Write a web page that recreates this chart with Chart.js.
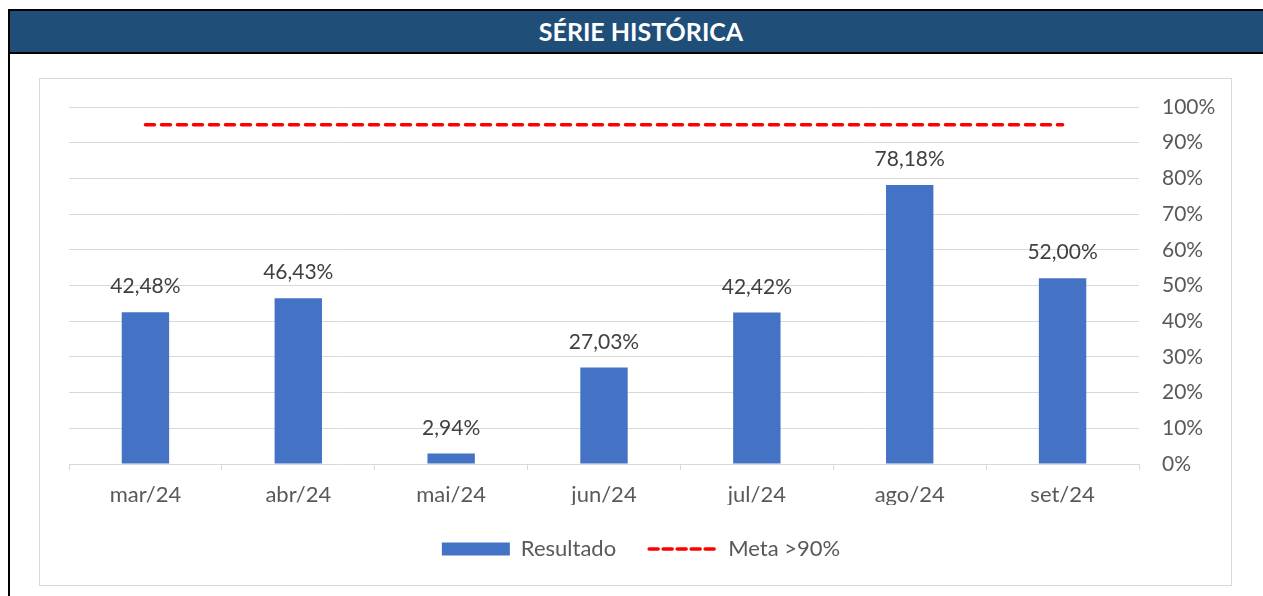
<!DOCTYPE html>
<html><head><meta charset="utf-8">
<script src="https://cdn.jsdelivr.net/npm/chart.js@4.4.1/dist/chart.umd.min.js"></script>
<style>
body{margin:0;background:#fff;width:1263px;height:596px;overflow:hidden;position:relative;font-family:Lato,sans-serif;}
#frame{position:absolute;left:8px;top:9px;width:1270px;height:600px;border-left:2px solid #000;border-top:2px solid #000;}
#title{position:absolute;left:0;top:0;width:1262px;height:41px;background:#1F4E79;border-bottom:2px solid #000;color:#fff;font-weight:bold;font-size:25px;line-height:41px;text-align:center;font-family:Lato,sans-serif;}
#box{position:absolute;left:39px;top:78px;width:1191px;height:506px;border:1px solid #d9d9d9;}
canvas{display:block;}
</style>
</head><body>
<div id="frame"><div id="title">SÉRIE HISTÓRICA</div></div>
<div id="box"><canvas id="c" width="1191" height="506"></canvas></div>
<script>
const categories = ['mar/24','abr/24','mai/24','jun/24','jul/24','ago/24','set/24'];
const resultado = [42.48, 46.43, 2.94, 27.03, 42.42, 78.18, 52.00];
const meta = [95, 95, 95, 95, 95, 95, 95];
const yTickValues = [0,10,20,30,40,50,60,70,80,90,100];

const FONT = 'Lato';
const labelPlugin = {
  id: 'barLabels',
  afterDatasetsDraw(chart) {
    const m = chart.getDatasetMeta(0);
    const ctx = chart.ctx;
    ctx.save();
    ctx.font = '21px ' + FONT;
    ctx.fillStyle = '#404040';
    ctx.textAlign = 'center';
    ctx.textBaseline = 'alphabetic';
    m.data.forEach((bar, i) => {
      ctx.fillText(resultado[i].toFixed(2).replace('.', ',') + '%', bar.x, bar.y - 19);
    });
    ctx.restore();
  }
};
// widen the right axis box after layout so its labels are not clipped
const axisWidenPlugin = {
  id: 'axisWiden',
  afterLayout(chart) {
    const s = chart.scales.y;
    s.right += 18;
    s.width += 18;
  }
};

new Chart(document.getElementById('c'), {
  type: 'bar',
  data: {
    labels: categories,
    datasets: [
      {
        label: 'Resultado',
        data: resultado,
        backgroundColor: '#4472C4',
        borderWidth: 0,
        categoryPercentage: 1,
        barPercentage: 0.31,
        pointStyle: 'rect',
        order: 1
      },
      {
        type: 'line',
        label: 'Meta >90%',
        data: meta,
        borderColor: '#FF0000',
        backgroundColor: '#FF0000',
        borderWidth: 3.5,
        borderDash: [9, 7],
        borderCapStyle: 'round',
        pointRadius: 0,
        pointStyle: 'line',
        fill: false,
        order: 0
      }
    ]
  },
  options: {
    responsive: false,
    animation: false,
    layout: { padding: { left: 29, right: 18, top: 28, bottom: 15 } },
    plugins: {
      tooltip: { enabled: false },
      legend: {
        position: 'bottom',
        labels: {
          usePointStyle: true,
          pointStyleWidth: 68,
          boxHeight: 13,
          padding: 33,
          color: '#595959',
          font: { family: FONT, size: 22 },
          sort: (a, b) => a.datasetIndex - b.datasetIndex,
          generateLabels(chart) {
            const items = Chart.defaults.plugins.legend.labels.generateLabels(chart);
            items.forEach(it => {
              if (it.datasetIndex === 1) {
                it.pointStyle = 'line';
                it.lineDash = [9, 5];
                it.lineCap = 'round';
                it.lineWidth = 3.5;
                it.strokeStyle = '#FF0000';
              } else {
                it.pointStyle = 'rect';
                it.lineWidth = 0;
                it.fillStyle = '#4472C4';
              }
            });
            return items;
          }
        }
      }
    },
    scales: {
      x: {
        offset: true,
        grid: { display: true, drawOnChartArea: false, drawTicks: true, tickLength: 6, color: '#d9d9d9', offset: true },
        border: { display: true, color: '#d9d9d9', width: 1 },
        ticks: { color: '#595959', font: { family: FONT, size: 22 }, padding: 12, maxRotation: 0 },
        afterFit(scale) { scale.height = 41; }
      },
      y: {
        position: 'right',
        min: 0, max: 100,
        afterBuildTicks(scale) { scale.ticks = yTickValues.map(v => ({ value: v })); },
        ticks: { color: '#595959', font: { family: FONT, size: 21 }, padding: 23, callback: v => v + '%' },
        grid: { color: '#d9d9d9', lineWidth: 1, drawTicks: false },
        border: { display: false },
        afterFit(scale) { scale.width = 74; scale.paddingTop = 0; scale.paddingBottom = 0; }
      }
    }
  },
  plugins: [labelPlugin, axisWidenPlugin]
});
</script>
</body></html>
